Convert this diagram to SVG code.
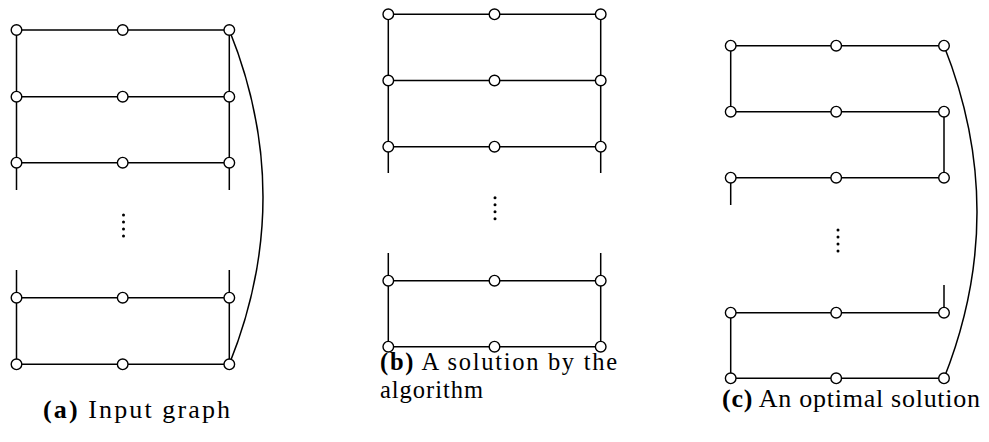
<svg xmlns="http://www.w3.org/2000/svg" width="989" height="442" viewBox="0 0 989 442">
<style>
.e{stroke:#000;stroke-width:1.5;fill:none}
.n{fill:#fff;stroke:#000;stroke-width:1.4}
.d{fill:#000}
.cap{font-family:"Liberation Serif",serif;font-size:26px;fill:#000}
.cb{font-family:"Liberation Serif",serif;font-size:24.5px;fill:#000}
.b{font-weight:bold}
</style>
<rect width="989" height="442" fill="#fff"/>
<g id="connectors">
<path class="e" d="M16.5 30H229.3M16.5 96.7H229.3M16.5 162.7H229.3M16.5 297.7H229.3M16.5 364.3H229.3"/>
<path class="e" d="M16.5 30V190M16.5 270V364.3M229.3 30V190M229.3 270V364.3"/>
<path class="e" d="M229.3 30Q296.7 197 229.3 364.3"/>
<path class="e" d="M388.3 14.3H600.7M388.3 80.5H600.7M388.3 146.7H600.7M388.3 280.7H600.7M388.3 346.7H600.7"/>
<path class="e" d="M388.3 14.3V173M388.3 253V346.7M600.7 14.3V173M600.7 253V346.7"/>
<path class="e" d="M730.7 45.7H944M730.7 111.7H944M730.7 177.7H944M730.7 312.7H944M730.7 378.3H944"/>
<path class="e" d="M730.7 45.7V111.7M944 111.7V177.7M730.7 177.7V205M944 285V312.7M730.7 312.7V378.3"/>
<path class="e" d="M944 45.7Q1010 212 944 378.3"/>
</g>
<g id="a-nodes">
<g id="a-r1c1"><circle class="n" cx="16.5" cy="30" r="5.3"/></g>
<g id="a-r1c2"><circle class="n" cx="122.7" cy="30" r="5.3"/></g>
<g id="a-r1c3"><circle class="n" cx="229.3" cy="30" r="5.3"/></g>
<g id="a-r2c1"><circle class="n" cx="16.5" cy="96.7" r="5.3"/></g>
<g id="a-r2c2"><circle class="n" cx="122.7" cy="96.7" r="5.3"/></g>
<g id="a-r2c3"><circle class="n" cx="229.3" cy="96.7" r="5.3"/></g>
<g id="a-r3c1"><circle class="n" cx="16.5" cy="162.7" r="5.3"/></g>
<g id="a-r3c2"><circle class="n" cx="122.7" cy="162.7" r="5.3"/></g>
<g id="a-r3c3"><circle class="n" cx="229.3" cy="162.7" r="5.3"/></g>
<g id="a-r4c1"><circle class="n" cx="16.5" cy="297.7" r="5.3"/></g>
<g id="a-r4c2"><circle class="n" cx="122.7" cy="297.7" r="5.3"/></g>
<g id="a-r4c3"><circle class="n" cx="229.3" cy="297.7" r="5.3"/></g>
<g id="a-r5c1"><circle class="n" cx="16.5" cy="364.3" r="5.3"/></g>
<g id="a-r5c2"><circle class="n" cx="122.7" cy="364.3" r="5.3"/></g>
<g id="a-r5c3"><circle class="n" cx="229.3" cy="364.3" r="5.3"/></g>
</g>
<g id="b-nodes">
<g id="b-r1c1"><circle class="n" cx="388.3" cy="14.3" r="5.3"/></g>
<g id="b-r1c2"><circle class="n" cx="494.5" cy="14.3" r="5.3"/></g>
<g id="b-r1c3"><circle class="n" cx="600.7" cy="14.3" r="5.3"/></g>
<g id="b-r2c1"><circle class="n" cx="388.3" cy="80.5" r="5.3"/></g>
<g id="b-r2c2"><circle class="n" cx="494.5" cy="80.5" r="5.3"/></g>
<g id="b-r2c3"><circle class="n" cx="600.7" cy="80.5" r="5.3"/></g>
<g id="b-r3c1"><circle class="n" cx="388.3" cy="146.7" r="5.3"/></g>
<g id="b-r3c2"><circle class="n" cx="494.5" cy="146.7" r="5.3"/></g>
<g id="b-r3c3"><circle class="n" cx="600.7" cy="146.7" r="5.3"/></g>
<g id="b-r4c1"><circle class="n" cx="388.3" cy="280.7" r="5.3"/></g>
<g id="b-r4c2"><circle class="n" cx="494.5" cy="280.7" r="5.3"/></g>
<g id="b-r4c3"><circle class="n" cx="600.7" cy="280.7" r="5.3"/></g>
<g id="b-r5c1"><circle class="n" cx="388.3" cy="346.7" r="5.3"/></g>
<g id="b-r5c2"><circle class="n" cx="494.5" cy="346.7" r="5.3"/></g>
<g id="b-r5c3"><circle class="n" cx="600.7" cy="346.7" r="5.3"/></g>
</g>
<g id="c-nodes">
<g id="c-r1c1"><circle class="n" cx="730.7" cy="45.7" r="5.3"/></g>
<g id="c-r1c2"><circle class="n" cx="836.2" cy="45.7" r="5.3"/></g>
<g id="c-r1c3"><circle class="n" cx="944" cy="45.7" r="5.3"/></g>
<g id="c-r2c1"><circle class="n" cx="730.7" cy="111.7" r="5.3"/></g>
<g id="c-r2c2"><circle class="n" cx="836.2" cy="111.7" r="5.3"/></g>
<g id="c-r2c3"><circle class="n" cx="944" cy="111.7" r="5.3"/></g>
<g id="c-r3c1"><circle class="n" cx="730.7" cy="177.7" r="5.3"/></g>
<g id="c-r3c2"><circle class="n" cx="836.2" cy="177.7" r="5.3"/></g>
<g id="c-r3c3"><circle class="n" cx="944" cy="177.7" r="5.3"/></g>
<g id="c-r4c1"><circle class="n" cx="730.7" cy="312.7" r="5.3"/></g>
<g id="c-r4c2"><circle class="n" cx="836.2" cy="312.7" r="5.3"/></g>
<g id="c-r4c3"><circle class="n" cx="944" cy="312.7" r="5.3"/></g>
<g id="c-r5c1"><circle class="n" cx="730.7" cy="378.3" r="5.3"/></g>
<g id="c-r5c2"><circle class="n" cx="836.2" cy="378.3" r="5.3"/></g>
<g id="c-r5c3"><circle class="n" cx="944" cy="378.3" r="5.3"/></g>
</g>
<g id="ellipses">
<circle class="d" cx="123.5" cy="215" r="1.5"/><circle class="d" cx="123.5" cy="222" r="1.5"/><circle class="d" cx="123.5" cy="229" r="1.5"/><circle class="d" cx="123.5" cy="236" r="1.5"/>
<circle class="d" cx="495" cy="197.7" r="1.5"/><circle class="d" cx="495" cy="204.7" r="1.5"/><circle class="d" cx="495" cy="211.7" r="1.5"/><circle class="d" cx="495" cy="218.7" r="1.5"/>
<circle class="d" cx="838" cy="230" r="1.5"/><circle class="d" cx="838" cy="237" r="1.5"/><circle class="d" cx="838" cy="244" r="1.5"/><circle class="d" cx="838" cy="251" r="1.5"/>
</g>
<g id="captions">
<text class="cap" x="43" y="418" textLength="187" lengthAdjust="spacing"><tspan class="b">(a)</tspan> Input graph</text>
<text class="cb" x="380" y="370" textLength="237" lengthAdjust="spacing"><tspan class="b">(b)</tspan> A solution by the</text>
<text class="cb" x="380" y="397.5" textLength="103" lengthAdjust="spacing">algorithm</text>
<text class="cap" x="722" y="407" textLength="258" lengthAdjust="spacing"><tspan class="b">(c)</tspan> An optimal solution</text>
</g>
</svg>
